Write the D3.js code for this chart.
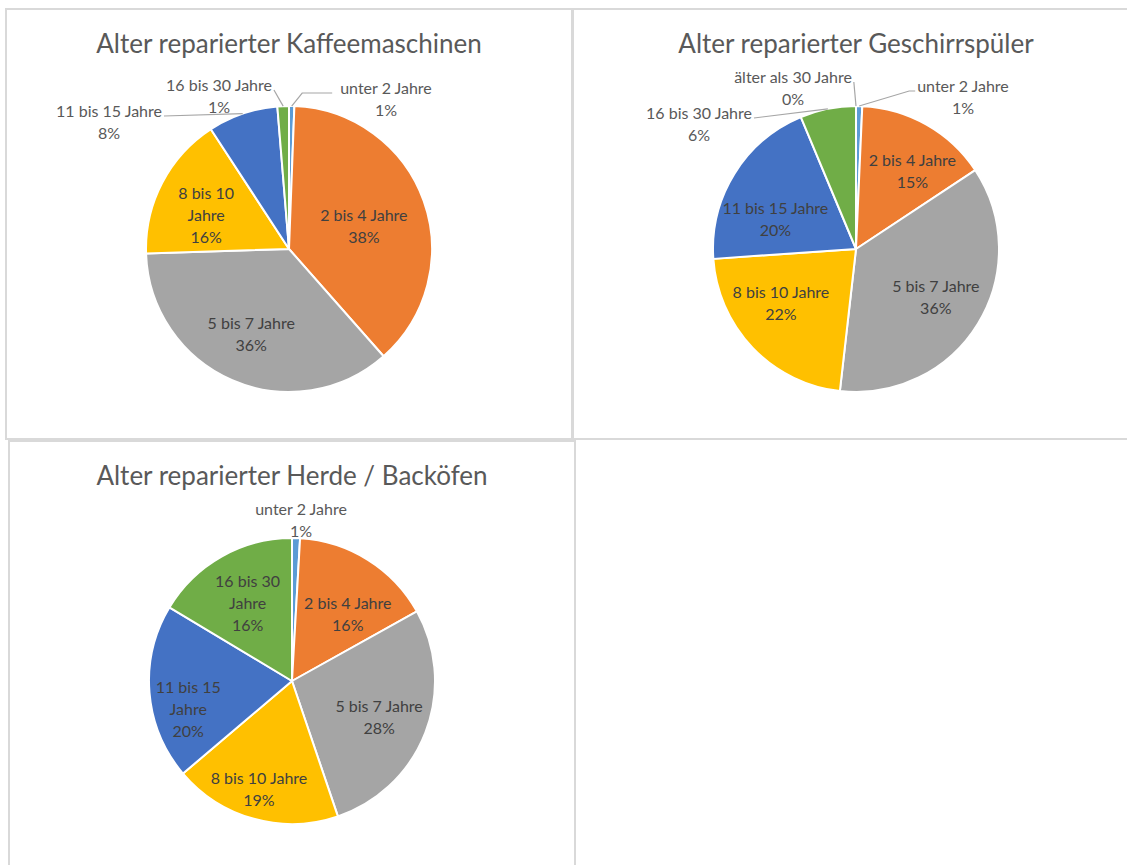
<!DOCTYPE html>
<html>
<head>
<meta charset="utf-8">
<script src="https://cdn.jsdelivr.net/npm/d3@7"></script>
<style>
	body { margin: 0; background: #fff; }
	svg { display: block; }
	text { font-family: Lato, "Open Sans", sans-serif; }
</style>
</head>
<body>
<svg id="chart" width="1127" height="865"></svg>
<script>
const categories = ["unter 2 Jahre", "2 bis 4 Jahre", "5 bis 7 Jahre", "8 bis 10 Jahre",
	"11 bis 15 Jahre", "16 bis 30 Jahre", "älter als 30 Jahre"];
// shares in percent
const kaffeeValues = [0.6, 37.9, 36.0, 16.3, 7.9, 1.3];
const spuelerValues = [0.7, 15.0, 36.1, 22.1, 19.8, 6.3, 0];
const herdeValues = [0.9, 16.0, 27.9, 19.0, 19.8, 16.4];
const titles = ["Alter reparierter Kaffeemaschinen", "Alter reparierter Geschirrspüler", "Alter reparierter Herde / Backöfen"];

const colors = ["#5B9BD5", "#ED7D31", "#A5A5A5", "#FFC000", "#4472C4", "#70AD47", "#255E91"];

// label placement, the way excel put them (nudge = shift from centroid, out = offset from pie center)
const charts = [
	{ title: titles[0], values: kaffeeValues, x: 6, y: 9, labels: [
		{ out: [97, -151], leader: 30, gap: 8 },
		{ nudge: [-10, 7] },
		{ nudge: [-2, 2] },
		{ nudge: [-3, 7], wrap: true },
		{ out: [-180, -128], leader: 0 },
		{ out: [-70, -154], leader: 0 }
	]},
	{ title: titles[1], values: spuelerValues, x: 573, y: 9, labels: [
		{ out: [107, -153], leader: 6 },
		{ nudge: [12, 0] },
		{ nudge: [3, 0] },
		{ nudge: [-10, -9] },
		{ nudge: [-4, 17] },
		{ out: [-157, -126], leader: 0 },
		{ out: [-63, -162], leader: 0 }
	]},
	{ title: titles[2], values: herdeValues, x: 9, y: 441, labels: [
		{ out: [9, -162] },
		{ nudge: [8, 9] },
		{ nudge: [3, 3] },
		{ nudge: [-9, 21] },
		{ nudge: [-14, 20], wrap: true },
		{ nudge: [0, 0], wrap: true }
	]}
];

const svg = d3.select('#chart');
const panelW = 566, panelH = 430;
const radius = 143;
const lineH = 22;
const pct = d3.format('.0%');

const pie = d3.pie().sort(null).value(d => d);
const arc = d3.arc().innerRadius(0).outerRadius(radius);
const labelArc = d3.arc().innerRadius(radius * 0.63).outerRadius(radius * 0.63);

charts.forEach(c => {
	const g = svg.append('g').attr('transform', `translate(${c.x},${c.y})`);

	g.append('rect')
		.attr('width', panelW)
		.attr('height', panelH)
		.attr('fill', '#fff')
		.attr('stroke', '#d9d9d9')
		.attr('stroke-width', 2);

	g.append('text')
		.attr('x', panelW / 2)
		.attr('y', 34)
		.attr('text-anchor', 'middle')
		.attr('dominant-baseline', 'central')
		.style('font-size', '26px')
		.style('fill', '#595959')
		.text(c.title);

	const cx = 283, cy = 240;
	const pg = g.append('g').attr('transform', `translate(${cx},${cy})`);
	const total = d3.sum(c.values);
	const arcs = pie(c.values);

	pg.selectAll('path')
		.data(arcs)
		.enter()
		.append('path')
		.attr('d', arc)
		.attr('fill', (d, i) => colors[i])
		.attr('stroke', '#fff')
		.attr('stroke-width', 2)
		.attr('stroke-linejoin', 'round');

	arcs.forEach((d, i) => {
		const lab = c.labels[i];
		let pos;
		if (lab.out) {
			pos = lab.out;
		} else {
			const ct = labelArc.centroid(d);
			pos = [ct[0] + lab.nudge[0], ct[1] + lab.nudge[1]];
		}
		const name = categories[i];
		let lines;
		if (lab.wrap) {
			const k = name.lastIndexOf(' ');
			lines = [name.slice(0, k), name.slice(k + 1)];
		} else {
			lines = [name];
		}
		lines.push(pct(d.value / total));

		const t = pg.append('text')
			.attr('text-anchor', 'middle')
			.style('font-size', '16px')
			.style('fill', lab.out ? '#595959' : '#404040');
		lines.forEach((s, j) => {
			t.append('tspan')
				.attr('x', pos[0])
				.attr('y', pos[1] + (j - (lines.length - 1) / 2) * lineH)
				.attr('dominant-baseline', 'central')
				.text(s);
		});

		if (lab.leader !== undefined) {
			const bb = t.node().getBBox();
			const mid = (d.startAngle + d.endAngle) / 2;
			const p0 = [radius * Math.sin(mid), -radius * Math.cos(mid)];
			const gap = lab.gap || 2;
			const left = pos[0] < p0[0];
			const ex = left ? bb.x + bb.width + gap : bb.x - gap;
			const ey = pos[1] - 5;
			const el = left ? ex + lab.leader : ex - lab.leader;
			pg.append('path')
				.attr('d', d3.line()([p0, [el, ey], [ex, ey]]))
				.attr('fill', 'none')
				.attr('stroke', '#a6a6a6')
				.attr('stroke-width', 1.2);
		}
	});
});
</script>
</body>
</html>
